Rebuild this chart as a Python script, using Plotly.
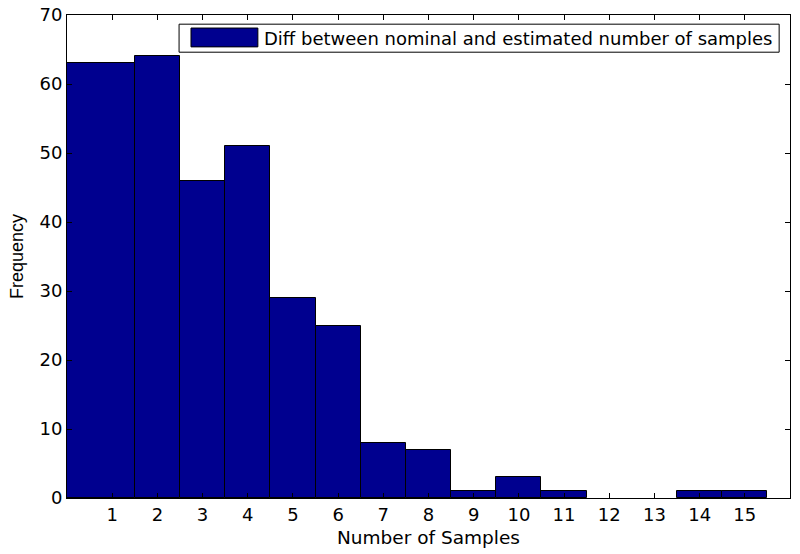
import plotly.graph_objects as go

categories = list(range(1, 16))
frequency = [63, 64, 46, 51, 29, 25, 8, 7, 1, 3, 1, 0, 0, 1, 1]
tick_labels = [str(c) for c in categories]
series_name = "Diff between nominal and estimated number of samples"

# first bin extends to the left edge of the axis (MATLAB hist style)
widths = [1.5] + [1.0] * (len(categories) - 1)
offsets = [-1.0] + [-0.5] * (len(categories) - 1)
line_widths = [1 if v > 0 else 0 for v in frequency]

BAR = "#00008F"
fig = go.Figure()
fig.add_trace(go.Bar(
    x=categories, y=frequency, width=widths, offset=offsets,
    marker=dict(color=BAR, line=dict(color="black", width=line_widths)),
    name=series_name, showlegend=False,
))

lib_font = "Liberation Sans, Arial, Helvetica, sans-serif"
dv_font = "DejaVu Sans, sans-serif"
fig.update_layout(
    width=800, height=554,
    margin=dict(l=67, r=10, t=15, b=56),
    paper_bgcolor="white", plot_bgcolor="white",
    font=dict(family=dv_font, size=18, color="black"),
    bargap=0,
    xaxis=dict(range=[0, 16], tickvals=categories, ticktext=tick_labels,
               ticks="inside", ticklen=5, tickcolor="black",
               tickfont=dict(family=dv_font, size=18),
               ticklabeloverflow="allow",
               showline=True, linecolor="black", linewidth=1, mirror="ticks",
               showgrid=False, zeroline=False, automargin=False,
               title=dict(text="Number of Samples", standoff=7,
                          font=dict(family=dv_font, size=18.5))),
    yaxis=dict(range=[0, 70], dtick=10,
               ticks="inside", ticklen=5, tickcolor="black",
               tickfont=dict(family=dv_font, size=18),
               ticklabeloverflow="allow",
               showline=True, linecolor="black", linewidth=1, mirror="ticks",
               showgrid=False, zeroline=False, automargin=False,
               title=dict(text="Frequency", standoff=11,
                          font=dict(family=lib_font, size=18))),
    shapes=[
        dict(type="rect", xref="paper", yref="paper",
             x0=0.155, x1=0.985, y0=0.923, y1=0.981,
             line=dict(color="black", width=1), fillcolor="white", layer="above"),
        dict(type="rect", xref="paper", yref="paper",
             x0=0.1715, x1=0.264, y0=0.934, y1=0.973,
             line=dict(color="black", width=1), fillcolor=BAR, layer="above"),
    ],
    annotations=[
        dict(text=series_name, xref="paper", yref="paper",
             x=0.270, y=0.952, xanchor="left", yanchor="middle",
             showarrow=False, font=dict(family=dv_font, size=18)),
    ],
)

# remove the browser's default 8px body margin so the 800x554 figure fills the window
fig.write_html("out.html", config={"displayModeBar": False},
               post_script="document.body.style.margin='0';")
